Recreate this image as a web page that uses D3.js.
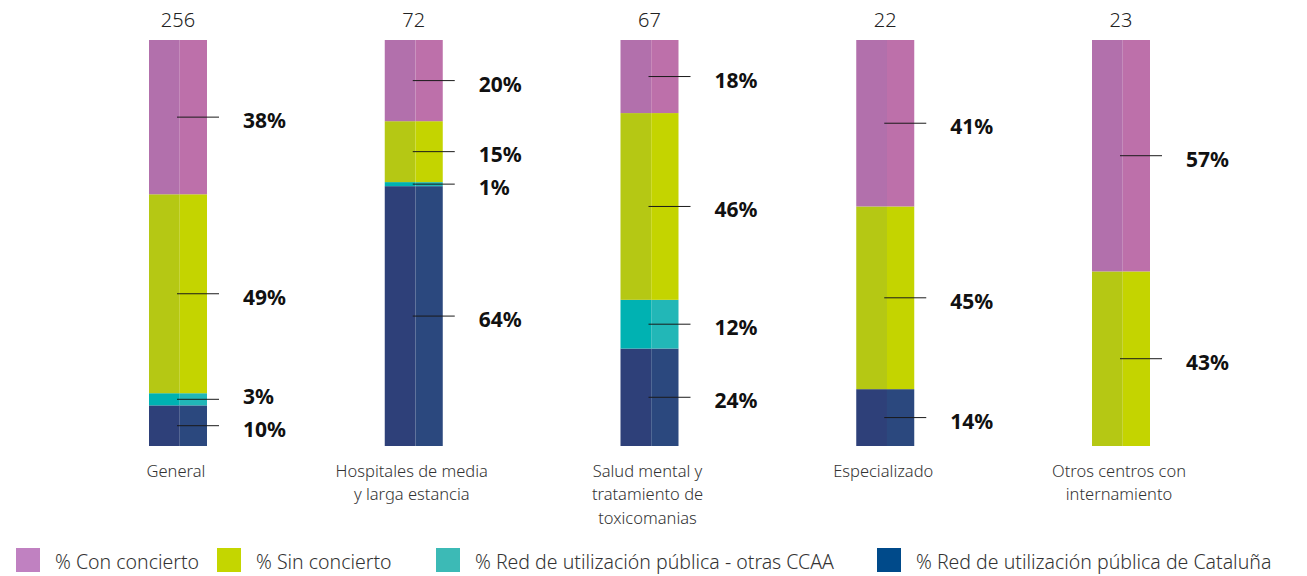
<!DOCTYPE html>
<html>
<head>
<meta charset="utf-8">
<script src="https://cdn.jsdelivr.net/npm/d3@7"></script>
<style>
  body { margin: 0; background: #fff; }
  svg { display: block; font-family: "Noto Sans", sans-serif; }
</style>
</head>
<body>
<script>
"use strict";

// categories (one entry per bar, lines split for the axis label)
const categories = ["General", "Hospitales", "Salud mental", "Especializado", "Otros centros"];
const categoryLines = [
    ["General"],
    ["Hospitales de media", "y larga estancia"],
    ["Salud mental y", "tratamiento de", "toxicomanias"],
    ["Especializado"],
    ["Otros centros con", "internamiento"]
];
const totals = [256, 72, 67, 22, 23];

// % per category
const redCataluna  = [10, 64, 24, 14, 0];
const redOtras     = [3, 1, 12, 0, 0];
const sinConcierto = [49, 15, 46, 45, 43];
const conConcierto = [38, 20, 18, 41, 57];

const seriesNames = [
    "% Con concierto",
    "% Sin concierto",
    "% Red de utilización pública - otras CCAA",
    "% Red de utilización pública de Cataluña"
];

const width = 1307, height = 576;
const barWidth = 58;

// [left half, right half, legend]
const colors = {
    red: ["#2e4079", "#2b487e", "#004a8a"],
    otras: ["#00b2b2", "#22b7b7", "#3cbab6"],
    sin: ["#b5c814", "#c4d400", "#c4d600"],
    con: ["#b270ac", "#bd70aa", "#c081c1"]
};

const stackKeys = ["red", "otras", "sin", "con"]; // bottom -> top
const rows = categories.map((c, i) => ({
    cat: c,
    red: redCataluna[i],
    otras: redOtras[i],
    sin: sinConcierto[i],
    con: conConcierto[i]
}));
const stacked = d3.stack().keys(stackKeys)(rows);

const svg = d3.select("body").append("svg")
    .attr("width", width)
    .attr("height", height);

const x = d3.scalePoint()
    .domain(categories)
    .range([178, 1121]);
const y = d3.scaleLinear()
    .domain([0, 100])
    .range([446, 40]);

const split = 0.53; // share of the bar drawn with the darker shade

const layers = svg.append("g").selectAll("g.layer")
    .data(stacked)
    .join("g")
    .attr("class", "layer");

layers.selectAll("rect.left")
    .data(d => d.map(p => ({ p, key: d.key })))
    .join("rect")
    .attr("class", "left")
    .attr("x", d => x(d.p.data.cat) - barWidth / 2)
    .attr("y", d => y(d.p[1]))
    .attr("width", barWidth * split)
    .attr("height", d => y(d.p[0]) - y(d.p[1]))
    .attr("fill", d => colors[d.key][0]);

layers.selectAll("rect.right")
    .data(d => d.map(p => ({ p, key: d.key })))
    .join("rect")
    .attr("class", "right")
    .attr("x", d => x(d.p.data.cat) - barWidth / 2 + barWidth * split)
    .attr("y", d => y(d.p[1]))
    .attr("width", barWidth * (1 - split))
    .attr("height", d => y(d.p[0]) - y(d.p[1]))
    .attr("fill", d => colors[d.key][1]);

// value labels with leader lines
const labels = [];
categories.forEach((c, i) => {
    stacked.forEach(layer => {
        const p = layer[i];
        const v = p[1] - p[0];
        if (v <= 0) return;
        const ly = (y(p[0]) + y(p[1])) / 2;
        labels.push({ cat: c, v, ly, ty: ly + 3 });
    });
});
// push labels apart (bottom up) when they get too close
categories.forEach(c => {
    const ls = labels.filter(l => l.cat === c).sort((a, b) => b.ty - a.ty);
    for (let k = 1; k < ls.length; k++) {
        if (ls[k - 1].ty - ls[k].ty < 33) ls[k].ty = ls[k - 1].ty - 33;
    }
});

const lab = svg.append("g");
lab.selectAll("line")
    .data(labels)
    .join("line")
    .attr("x1", d => x(d.cat) - 1)
    .attr("x2", d => x(d.cat) + 41)
    .attr("y1", d => d.ly)
    .attr("y2", d => d.ly)
    .attr("stroke", "#1a1a1a")
    .attr("stroke-width", 1);
lab.selectAll("text")
    .data(labels)
    .join("text")
    .attr("x", d => x(d.cat) + 65)
    .attr("y", d => d.ty)
    .attr("dominant-baseline", "central")
    .attr("font-size", 21)
    .attr("font-weight", "bold")
    .attr("fill", "#111")
    .text(d => `${d.v}%`);

// totals on top
svg.append("g").selectAll("text")
    .data(categories)
    .join("text")
    .attr("x", d => x(d))
    .attr("y", 19)
    .attr("text-anchor", "middle")
    .attr("dominant-baseline", "central")
    .attr("font-size", 20)
    .attr("font-weight", 300)
    .attr("fill", "#222")
    .text((d, i) => totals[i]);

// category labels
const catG = svg.append("g").selectAll("text")
    .data(categories)
    .join("text")
    .attr("x", d => x(d) - 2)
    .attr("text-anchor", "middle")
    .attr("font-size", 16.5)
    .attr("font-weight", 300)
    .attr("fill", "#333");
catG.selectAll("tspan")
    .data((d, i) => categoryLines[i])
    .join("tspan")
    .attr("x", function () { return this.parentNode.getAttribute("x"); })
    .attr("y", (d, j) => 470 + j * 23.5)
    .attr("dominant-baseline", "central")
    .text(d => d);

// legend
const legendX = [16, 217, 436, 877];
const legendKeys = ["con", "sin", "otras", "red"];
const leg = svg.append("g").selectAll("g")
    .data(seriesNames)
    .join("g")
    .attr("transform", (d, i) => `translate(${legendX[i]},548)`);
leg.append("rect")
    .attr("width", 24)
    .attr("height", 24)
    .attr("fill", (d, i) => colors[legendKeys[i]][2]);
leg.append("text")
    .attr("x", 39)
    .attr("y", 13)
    .attr("dominant-baseline", "central")
    .attr("font-size", 19.5)
    .attr("font-weight", 300)
    .attr("fill", "#333")
    .text(d => d);
</script>
</body>
</html>
